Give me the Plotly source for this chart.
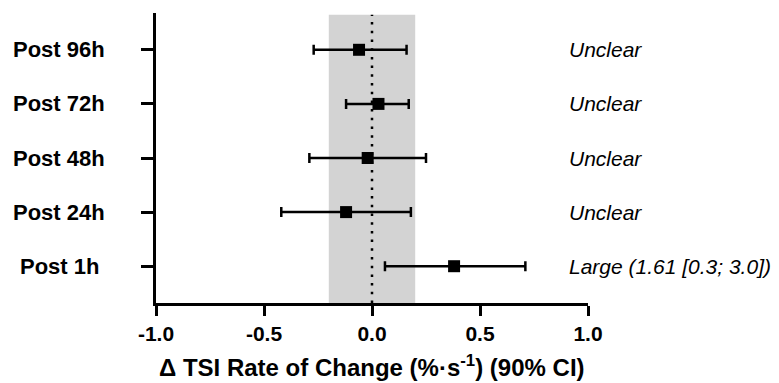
import plotly.graph_objects as go

categories = ["Post 1h", "Post 24h", "Post 48h", "Post 72h", "Post 96h"]
means = [0.38, -0.12, -0.02, 0.03, -0.06]
lower = [0.06, -0.42, -0.29, -0.12, -0.27]
upper = [0.71, 0.18, 0.25, 0.17, 0.16]
outcomes = ["Large (1.61 [0.3; 3.0])", "Unclear", "Unclear", "Unclear", "Unclear"]
x_ticks = [-1.0, -0.5, 0.0, 0.5, 1.0]
x_tick_labels = ["-1.0", "-0.5", "0.0", "0.5", "1.0"]
trivial_band = [-0.2, 0.2]

FONT = "Liberation Sans, Arial, sans-serif"

err_plus = [u - m for u, m in zip(upper, means)]
err_minus = [m - l for m, l in zip(means, lower)]

fig = go.Figure()

fig.add_trace(go.Scatter(
    x=means, y=categories, mode="markers",
    marker=dict(symbol="square", size=12, color="black"),
    error_x=dict(type="data", symmetric=False, array=err_plus, arrayminus=err_minus,
                 color="black", thickness=2.5, width=5),
    showlegend=False, cliponaxis=False,
))

fig.add_shape(type="rect", xref="x", yref="paper", x0=trivial_band[0], x1=trivial_band[1],
              y0=0, y1=0.994, fillcolor="rgb(211,211,211)", line=dict(width=0), layer="below")
fig.add_shape(type="line", xref="x", yref="paper", x0=0, x1=0, y0=0, y1=0.994,
              line=dict(color="black", width=2.5, dash="2.5px,6.2px"), layer="below")

for cat, txt in zip(categories, outcomes):
    fig.add_annotation(x=0.905, y=cat, xref="x", yref="y", text=f"<i>{txt}</i>",
                       showarrow=False, xanchor="left", yanchor="middle",
                       font=dict(family=FONT, size=21, color="black"))
    fig.add_annotation(x=-0.2245, y=cat, xref="paper", yref="y", text=f"<b>{cat}</b>",
                       showarrow=False, xanchor="center", yanchor="middle",
                       font=dict(family=FONT, size=22, color="black"))

fig.add_annotation(x=0.5, y=-0.218, xref="paper", yref="paper",
                   text="<b>Δ TSI Rate of Change (%·s<sup>-1</sup>) (90% CI)</b>",
                   showarrow=False, xanchor="center", yanchor="middle",
                   font=dict(family=FONT, size=24, color="black"))

fig.update_xaxes(range=[-1, 1], tickvals=x_ticks, ticktext=[f"<b>{t}</b>" for t in x_tick_labels],
                 showline=True, linewidth=3, linecolor="black", ticks="outside",
                 ticklen=10, tickwidth=3, tickcolor="black", showgrid=False, zeroline=False,
                 tickfont=dict(family=FONT, size=21, color="black"))
fig.update_yaxes(type="category", categoryorder="array", categoryarray=categories,
                 range=[-0.68, 4.68], showline=True, linewidth=3, linecolor="black",
                 ticks="outside", ticklen=12, tickwidth=3, tickcolor="black",
                 showticklabels=False, showgrid=False, zeroline=False)

# page body has an 8px margin, so the figure is sized/offset to land on the 779x383 frame
fig.update_layout(width=771, height=375, margin=dict(l=148, r=191, t=5, b=80),
                  plot_bgcolor="white", paper_bgcolor="white",
                  font=dict(family=FONT, color="black"))

fig.write_html("out.html")
